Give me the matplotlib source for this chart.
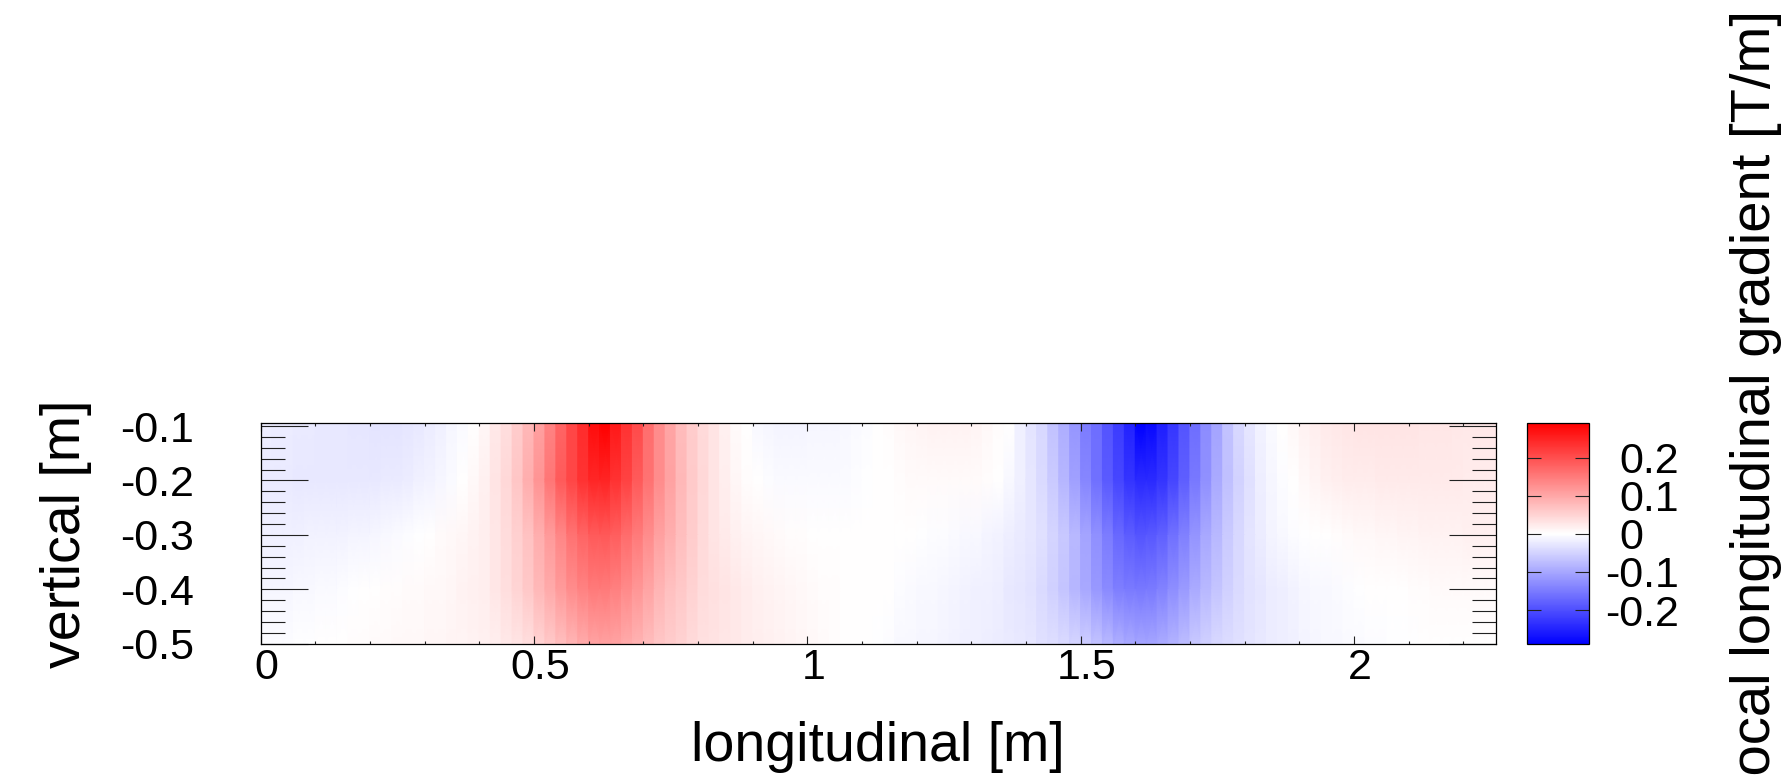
import matplotlib
matplotlib.use("Agg")
import matplotlib.pyplot as plt
import matplotlib.transforms as mtransforms
from matplotlib.colors import LinearSegmentedColormap
from matplotlib.ticker import MultipleLocator
import numpy as np

plt.rcParams['font.family'] = ['Liberation Sans', 'DejaVu Sans']

# --- Daten: lokaler Längsgradient [T/m], Bins von 0.02 m in longitudinaler Richtung ---
bin_width = 0.02
n_bins = 113   # 0 .. 2.26 m

# vertikale Stützstellen [m] (oben -> unten)
y_levels = [-0.095, -0.2, -0.3, -0.4, -0.5]

grad_top = [
    -0.020, -0.021, -0.022, -0.023, -0.024, -0.025, -0.026, -0.027, -0.028, -0.029,
    -0.030, -0.030, -0.030, -0.029, -0.026, -0.021, -0.017, -0.011, -0.006, 0.000,
    0.011, 0.026, 0.037, 0.057, 0.080, 0.108, 0.142, 0.176, 0.210, 0.240,
    0.275, 0.290, 0.262, 0.233, 0.205, 0.165, 0.131, 0.102, 0.076, 0.057,
    0.042, 0.031, 0.017, 0.006, 0.000, -0.008, -0.011, -0.012, -0.012, -0.012,
    -0.011, -0.011, -0.010, -0.009, -0.006, -0.003, 0.000, 0.004, 0.008, 0.011,
    0.013, 0.015, 0.015, 0.015, 0.014, 0.012, 0.008, 0.003, 0.000, -0.017,
    -0.031, -0.045, -0.068, -0.091, -0.120, -0.148, -0.165, -0.193, -0.222, -0.250,
    -0.290, -0.280, -0.256, -0.227, -0.193, -0.165, -0.131, -0.102, -0.068, -0.045,
    -0.028, -0.015, -0.006, 0.000, 0.008, 0.015, 0.020, 0.024, 0.027, 0.029,
    0.030, 0.031, 0.031, 0.031, 0.030, 0.030, 0.029, 0.028, 0.028, 0.027,
    0.026, 0.025, 0.025]

grad_m02 = [
    -0.023, -0.024, -0.024, -0.025, -0.025, -0.026, -0.026, -0.026, -0.026, -0.026,
    -0.025, -0.024, -0.023, -0.021, -0.018, -0.015, -0.010, -0.006, 0.000, 0.008,
    0.017, 0.031, 0.045, 0.065, 0.091, 0.122, 0.156, 0.188, 0.210, 0.233,
    0.245, 0.247, 0.233, 0.213, 0.188, 0.159, 0.131, 0.106, 0.080, 0.060,
    0.045, 0.031, 0.019, 0.010, 0.003, 0.000, -0.004, -0.006, -0.006, -0.006,
    -0.006, -0.006, -0.006, -0.006, -0.004, -0.002, 0.000, 0.002, 0.004, 0.006,
    0.006, 0.006, 0.006, 0.006, 0.006, 0.006, 0.003, 0.000, -0.008, -0.017,
    -0.028, -0.042, -0.060, -0.083, -0.108, -0.136, -0.163, -0.188, -0.210, -0.230,
    -0.242, -0.242, -0.230, -0.210, -0.182, -0.154, -0.125, -0.097, -0.072, -0.051,
    -0.034, -0.019, -0.010, -0.003, 0.000, 0.008, 0.013, 0.017, 0.020, 0.021,
    0.022, 0.022, 0.023, 0.023, 0.023, 0.023, 0.023, 0.023, 0.023, 0.023,
    0.022, 0.022, 0.022]

grad_m03 = [
    -0.017, -0.017, -0.016, -0.016, -0.015, -0.015, -0.014, -0.014, -0.013, -0.012,
    -0.010, -0.008, -0.006, -0.003, -0.001, 0.002, 0.005, 0.008, 0.011, 0.015,
    0.019, 0.028, 0.040, 0.053, 0.068, 0.091, 0.114, 0.136, 0.159, 0.176,
    0.188, 0.190, 0.182, 0.167, 0.151, 0.131, 0.108, 0.091, 0.074, 0.057,
    0.042, 0.031, 0.023, 0.017, 0.013, 0.010, 0.008, 0.006, 0.004, 0.003,
    0.002, 0.001, 0.000, 0.000, 0.000, 0.000, 0.000, 0.000, 0.000, 0.000,
    -0.002, -0.003, -0.004, -0.005, -0.007, -0.009, -0.012, -0.015, -0.019, -0.023,
    -0.028, -0.034, -0.049, -0.063, -0.080, -0.102, -0.125, -0.148, -0.170, -0.185,
    -0.193, -0.190, -0.179, -0.163, -0.144, -0.122, -0.099, -0.080, -0.060, -0.045,
    -0.031, -0.022, -0.013, -0.009, -0.004, -0.002, 0.000, 0.001, 0.003, 0.005,
    0.007, 0.009, 0.010, 0.011, 0.012, 0.013, 0.014, 0.014, 0.015, 0.015,
    0.016, 0.016, 0.016]

grad_m04 = [
    -0.011, -0.010, -0.010, -0.009, -0.008, -0.006, -0.005, -0.003, -0.002, 0.000,
    0.001, 0.003, 0.004, 0.005, 0.006, 0.008, 0.009, 0.011, 0.014, 0.016,
    0.019, 0.028, 0.037, 0.049, 0.063, 0.080, 0.097, 0.114, 0.131, 0.142,
    0.150, 0.151, 0.144, 0.133, 0.119, 0.102, 0.085, 0.072, 0.063, 0.051,
    0.040, 0.034, 0.031, 0.026, 0.022, 0.018, 0.014, 0.012, 0.010, 0.008,
    0.006, 0.004, 0.003, 0.001, 0.000, 0.000, 0.000, 0.000, -0.003, -0.006,
    -0.007, -0.009, -0.011, -0.012, -0.014, -0.016, -0.017, -0.020, -0.025, -0.028,
    -0.033, -0.042, -0.053, -0.067, -0.082, -0.099, -0.117, -0.133, -0.146, -0.151,
    -0.154, -0.151, -0.142, -0.129, -0.114, -0.097, -0.080, -0.066, -0.053, -0.042,
    -0.033, -0.028, -0.022, -0.019, -0.015, -0.011, -0.009, -0.007, -0.005, -0.003,
    -0.001, 0.000, 0.000, 0.000, 0.000, 0.004, 0.004, 0.005, 0.005, 0.005,
    0.006, 0.006, 0.006]

grad_bottom = [
    -0.004, -0.003, -0.003, -0.002, -0.001, 0.000, 0.001, 0.002, 0.003, 0.004,
    0.005, 0.006, 0.007, 0.008, 0.009, 0.010, 0.011, 0.012, 0.013, 0.015,
    0.017, 0.020, 0.026, 0.030, 0.037, 0.051, 0.063, 0.074, 0.085, 0.097,
    0.106, 0.108, 0.106, 0.097, 0.088, 0.076, 0.065, 0.057, 0.051, 0.042,
    0.036, 0.032, 0.028, 0.025, 0.021, 0.019, 0.016, 0.014, 0.012, 0.010,
    0.008, 0.006, 0.004, 0.002, 0.001, 0.000, -0.002, -0.004, -0.007, -0.009,
    -0.010, -0.011, -0.013, -0.015, -0.016, -0.018, -0.020, -0.022, -0.024, -0.027,
    -0.029, -0.034, -0.037, -0.042, -0.048, -0.057, -0.068, -0.080, -0.091, -0.099,
    -0.102, -0.102, -0.097, -0.088, -0.076, -0.063, -0.053, -0.045, -0.040, -0.035,
    -0.030, -0.026, -0.022, -0.019, -0.016, -0.012, -0.010, -0.008, -0.007, -0.006,
    -0.005, -0.004, -0.003, -0.002, -0.001, -0.001, 0.000, 0.000, 0.000, 0.000,
    0.000, 0.000, 0.000]

x_ticks = [0, 0.5, 1, 1.5, 2]
x_ticklabels = ['0', '0.5', '1', '1.5', '2']
y_ticks = [-0.5, -0.4, -0.3, -0.2, -0.1]
y_ticklabels = ['-0.5', '-0.4', '-0.3', '-0.2', '-0.1']
z_ticks = [-0.2, -0.1, 0, 0.1, 0.2]
z_ticklabels = ['-0.2', '-0.1', '0', '0.1', '0.2']
z_range = 0.29

# --- Figur ---
W, H = 1788, 780
fig = plt.figure(figsize=(W / 100, H / 100), dpi=100)

def px_axes(x0, y0, x1, y1):
    return fig.add_axes([x0 / W, 1 - y1 / H, (x1 - x0) / W, (y1 - y0) / H])

ax = px_axes(260.7, 423.3, 1496, 643.7)

cmap = LinearSegmentedColormap.from_list('rwb', ['#0000ff', '#ffffff', '#ff0000'], N=256)

# Spalten stufig (Bins), vertikal glatt: jede Bin-Kante bekommt den Bin-Wert
left = np.arange(n_bins) * bin_width
right = left + bin_width
xs = np.column_stack([left, right]).ravel()
grid = np.array([grad_top, grad_m02, grad_m03, grad_m04, grad_bottom])
cs = np.repeat(grid, 2, axis=1)
mesh = ax.pcolormesh(xs, np.array(y_levels), cs, shading='gouraud', cmap=cmap,
                     vmin=-z_range, vmax=z_range, rasterized=True)

ax.set_xlim(0, n_bins * bin_width)
ax.set_ylim(-0.5, -0.095)

ax.set_xticks(x_ticks, x_ticklabels)
ax.set_yticks(y_ticks, y_ticklabels)
ax.xaxis.set_minor_locator(MultipleLocator(0.1))
ax.yaxis.set_minor_locator(MultipleLocator(0.02))

ax.tick_params(which='both', direction='in', top=True, right=True, color='#222222', width=0.8)
ax.tick_params(axis='x', which='major', length=6, labelsize=31, pad=3.3)
ax.tick_params(axis='x', which='minor', length=2.5)
ax.tick_params(axis='y', which='major', length=34, labelsize=31, pad=48)
ax.tick_params(axis='y', which='minor', length=17)
for s in ax.spines.values():
    s.set_linewidth(0.9)

# ROOT-artiger Versatz der x-Beschriftungen
shift = mtransforms.ScaledTranslation(6 / 100, 0, fig.dpi_scale_trans)
for lab in ax.get_xticklabels():
    lab.set_transform(lab.get_transform() + shift)

# --- Farbskala ---
cax = px_axes(1527.3, 423.3, 1589.3, 644.3)
cb = fig.colorbar(mesh, cax=cax)
cb.set_ticks(z_ticks, labels=z_ticklabels)
cb.outline.set_linewidth(0.9)
cax.tick_params(direction='in', length=10, left=True, right=True, color='#222222',
                width=0.8, labelsize=31, pad=22)
cax.minorticks_off()
minus_shift = mtransforms.ScaledTranslation(-0.333 * 31 / 72, 0, fig.dpi_scale_trans)
for lab in cax.get_yticklabels():
    lab.set_horizontalalignment('left')
    if lab.get_text().startswith('-'):
        lab.set_transform(lab.get_transform() + minus_shift)

# --- Achsentitel ---
fig.text(878 / W, 1 - 760.7 / H, 'longitudinal [m]', fontsize=40,
         ha='center', va='baseline')
fig.text(92 / W, 1 - 533.5 / H, 'vertical [m]', fontsize=40,
         ha='right', va='center', rotation=90)
# Titel der Farbskala läuft unten aus dem Bild (wie im Original)
fig.text(1782 / W, 1 - 10 / H, 'local longitudinal gradient [T/m]', fontsize=40.5,
         ha='right', va='top', rotation=90)

fig.savefig('out.png', dpi=100)
